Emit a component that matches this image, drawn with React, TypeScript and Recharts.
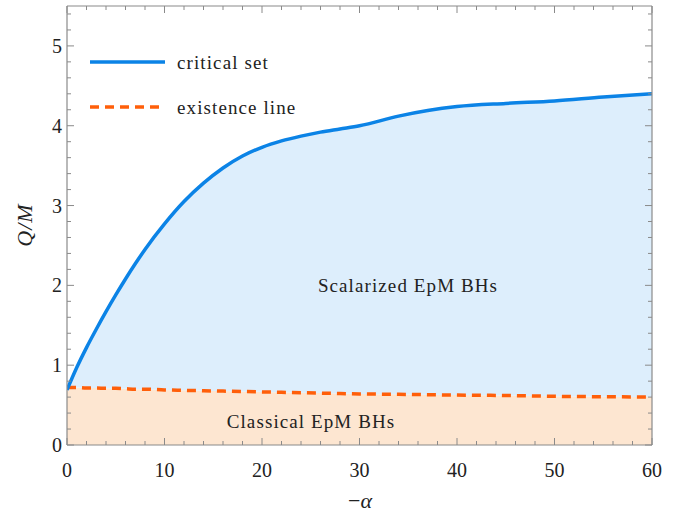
import React from 'react';
import { ComposedChart, Area, Line, XAxis, YAxis } from 'recharts';

const alpha = [0, 1, 2, 3, 4, 5, 6, 7, 8, 10, 12, 14, 16, 18, 20, 22, 24, 26, 28, 30, 34, 37, 40, 45, 50, 55, 60];
const criticalSet = [0.69, 0.97, 1.22, 1.45, 1.67, 1.88, 2.08, 2.27, 2.45, 2.77, 3.05, 3.28, 3.47, 3.62, 3.73, 3.81, 3.87, 3.92, 3.96, 4.0, 4.12, 4.19, 4.24, 4.28, 4.31, 4.36, 4.4];
const existenceLine = [0.72, 0.72, 0.715, 0.715, 0.71, 0.71, 0.705, 0.70, 0.70, 0.69, 0.685, 0.68, 0.675, 0.67, 0.665, 0.66, 0.655, 0.65, 0.645, 0.64, 0.635, 0.63, 0.625, 0.62, 0.61, 0.605, 0.6];

const xTicks = [0, 2, 4, 6, 8, 10, 12, 14, 16, 18, 20, 22, 24, 26, 28, 30, 32, 34, 36, 38, 40, 42, 44, 46, 48, 50, 52, 54, 56, 58, 60];
const yTicks = [0, 0.2, 0.4, 0.6, 0.8, 1, 1.2, 1.4, 1.6, 1.8, 2, 2.2, 2.4, 2.6, 2.8, 3, 3.2, 3.4, 3.6, 3.8, 4, 4.2, 4.4, 4.6, 4.8, 5, 5.2, 5.4];
const xMajor = [0, 10, 20, 30, 40, 50, 60];
const yMajor = [0, 1, 2, 3, 4, 5];

const data = alpha.map((a, i) => ({
  alpha: a,
  crit: criticalSet[i],
  exist: existenceLine[i],
  band: [existenceLine[i], criticalSet[i]],
}));

const FRAME = '#8a8a8a';
const TXT = '#222';
const FONT = '"Liberation Serif", "Times New Roman", serif';
const BLUE = '#0b83e6';
const ORANGE = '#ff5f0a';

const isMajor = (v: number, majors: number[]) => majors.some((m) => Math.abs(m - v) < 1e-6);

const BottomTick = (p: any) => {
  const { x, y, payload } = p;
  const major = isMajor(payload.value, xMajor);
  return (
    <g>
      <line x1={x} x2={x} y1={y} y2={y - (major ? 7 : 4)} stroke={FRAME} strokeWidth={1} />
      {major && (
        <text x={x} y={y + 25} textAnchor="middle" dominantBaseline="central" fontFamily={FONT} fontSize={20} fill={TXT}>
          {payload.value}
        </text>
      )}
    </g>
  );
};

const TopTick = (p: any) => {
  const { x, y, payload } = p;
  const major = isMajor(payload.value, xMajor);
  return <line x1={x} x2={x} y1={y} y2={y + (major ? 7 : 4)} stroke={FRAME} strokeWidth={1} />;
};

const LeftTick = (p: any) => {
  const { x, y, payload } = p;
  const major = isMajor(payload.value, yMajor);
  return (
    <g>
      <line x1={x} x2={x + (major ? 7 : 4)} y1={y} y2={y} stroke={FRAME} strokeWidth={1} />
      {major && (
        <text x={x - 5} y={y} textAnchor="end" dominantBaseline="central" fontFamily={FONT} fontSize={20} fill={TXT}>
          {Math.round(payload.value)}
        </text>
      )}
    </g>
  );
};

const RightTick = (p: any) => {
  const { x, y, payload } = p;
  const major = isMajor(payload.value, yMajor);
  return <line x1={x} x2={x - (major ? 7 : 4)} y1={y} y2={y} stroke={FRAME} strokeWidth={1} />;
};

export default function App() {
  return (
    <div style={{ position: 'absolute', left: 0, top: 0, width: 676, height: 514, background: '#fff' }}>
      <ComposedChart width={676} height={514} data={data} margin={{ top: 5, right: 23, left: 66, bottom: 0 }}>
        <XAxis
          xAxisId="b"
          dataKey="alpha"
          type="number"
          domain={[0, 60]}
          ticks={xTicks}
          interval={0}
          height={69}
          tickSize={0}
          tickMargin={0}
          tick={<BottomTick />}
          axisLine={{ stroke: FRAME, strokeWidth: 1.2 }}
          allowDataOverflow
        />
        <XAxis
          xAxisId="t"
          orientation="top"
          dataKey="alpha"
          type="number"
          domain={[0, 60]}
          ticks={xTicks}
          interval={0}
          height={1}
          tickSize={0}
          tickMargin={0}
          tick={<TopTick />}
          axisLine={{ stroke: FRAME, strokeWidth: 1.2 }}
          allowDataOverflow
        />
        <YAxis
          yAxisId="l"
          type="number"
          domain={[0, 5.5]}
          ticks={yTicks}
          interval={0}
          width={1}
          tickSize={0}
          tickMargin={0}
          tick={<LeftTick />}
          axisLine={{ stroke: FRAME, strokeWidth: 1.2 }}
          allowDataOverflow
        />
        <YAxis
          yAxisId="r"
          orientation="right"
          type="number"
          domain={[0, 5.5]}
          ticks={yTicks}
          interval={0}
          width={1}
          tickSize={0}
          tickMargin={0}
          tick={<RightTick />}
          axisLine={{ stroke: FRAME, strokeWidth: 1.2 }}
          allowDataOverflow
        />
        <Area xAxisId="b" yAxisId="l" type="monotone" dataKey="exist" stroke="none" fill="#fde6d1" fillOpacity={1} isAnimationActive={false} />
        <Area xAxisId="b" yAxisId="l" type="monotone" dataKey="band" stroke="none" fill="#ddeefc" fillOpacity={1} isAnimationActive={false} />
        <Line xAxisId="t" yAxisId="r" type="monotone" dataKey="crit" stroke="none" dot={false} isAnimationActive={false} legendType="none" />
        <Line xAxisId="b" yAxisId="l" type="monotone" dataKey="exist" stroke={ORANGE} strokeWidth={3.5} strokeDasharray="9 6" dot={false} isAnimationActive={false} />
        <Line xAxisId="b" yAxisId="l" type="monotone" dataKey="crit" stroke={BLUE} strokeWidth={3.5} dot={false} isAnimationActive={false} />
      </ComposedChart>
      <svg width={676} height={514} style={{ position: 'absolute', left: 0, top: 0, pointerEvents: 'none' }}>
        <line x1={90} x2={165} y1={62} y2={62} stroke={BLUE} strokeWidth={3.5} />
        <text x={177} y={62} dominantBaseline="central" fontFamily={FONT} fontSize={19} letterSpacing={1.1} fill={TXT}>critical set</text>
        <line x1={90} x2={165} y1={107} y2={107} stroke={ORANGE} strokeWidth={3.5} strokeDasharray="9 6" />
        <text x={177} y={107} dominantBaseline="central" fontFamily={FONT} fontSize={19} letterSpacing={1.1} fill={TXT}>existence line</text>
        <text x={408} y={285} textAnchor="middle" dominantBaseline="central" fontFamily={FONT} fontSize={19} letterSpacing={1.1} fill={TXT}>Scalarized EpM BHs</text>
        <text x={311} y={421} textAnchor="middle" dominantBaseline="central" fontFamily={FONT} fontSize={19} letterSpacing={1.1} fill={TXT}>Classical EpM BHs</text>
        <text x={360} y={500} textAnchor="middle" dominantBaseline="central" fontFamily={FONT} fontSize={22} fill={TXT}>
          −<tspan fontStyle="italic">α</tspan>
        </text>
        <text x={24} y={225} textAnchor="middle" dominantBaseline="central" fontFamily={FONT} fontSize={22} fontStyle="italic" letterSpacing={1} fill={TXT} transform="rotate(-90 24 225)">
          Q/M
        </text>
      </svg>
    </div>
  );
}
